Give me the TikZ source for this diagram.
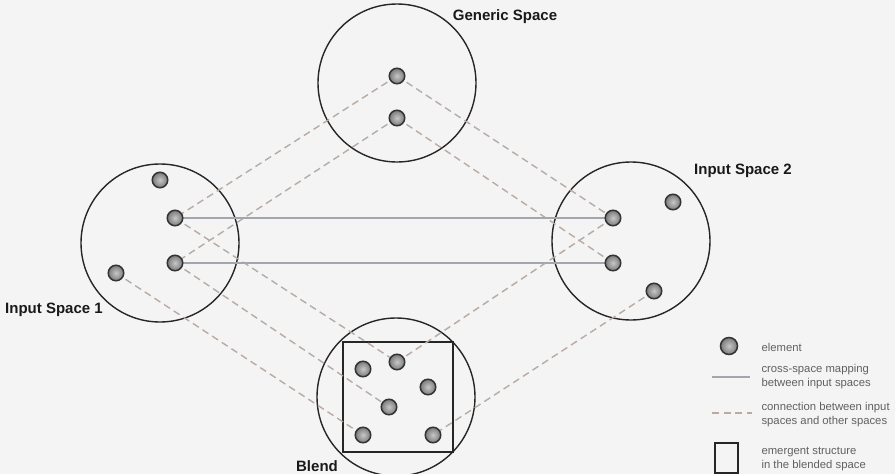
\documentclass[tikz,border=0pt]{standalone}
\usepackage{fontspec}
\setmainfont{Liberation Sans}
\begin{document}
\begin{tikzpicture}[x=1pt,y=-1pt,
  space/.style={circle,draw=black!85,line width=1.4pt,minimum size=158pt,inner sep=0pt},
  elem/.style={circle,draw=black!80,line width=1.5pt,minimum size=15.5pt,inner sep=0pt,
    inner color=black!22,outer color=black!52},
  mapping/.style={draw=maplinecol,line width=1.3pt},
  conn/.style={draw=connlinecol,line width=1.4pt,dash pattern=on 7pt off 4.5pt},
  title/.style={font=\fontsize{15}{17}\selectfont\bfseries,text=black!90},
  legtext/.style={font=\fontsize{11.3}{14}\selectfont,text=black!62,align=left,anchor=west}]
\definecolor{bgcol}{HTML}{F4F4F4}
\definecolor{maplinecol}{HTML}{A3A6AC}
\definecolor{connlinecol}{HTML}{B8ABA3}

\useasboundingbox (0,0) rectangle (895,474);
\fill[bgcol] (0,0) rectangle (895,474);

% mental spaces
\node[space] (gen) at (397,83) {};
\node[space] (in1) at (160,243) {};
\node[space] (in2) at (631,241) {};
\node[space] (bl)  at (396,397) {};
\draw[black!85,line width=1.4pt] (343,342) rectangle (453,452);

% space labels
\node[title] (tgen) at (505,17) {Generic Space};
\node[title] (tin2) at (743,171) {Input Space 2};
\node[title] (tin1) at (54,310) {Input Space 1};
\node[title] (tbl)  at (317,466) {Blend};

% element positions
\coordinate (pg1) at (397,76);
\coordinate (pg2) at (397,118);
\coordinate (pa0) at (160,180);
\coordinate (pa1) at (175,218);
\coordinate (pa2) at (175,263);
\coordinate (pa3) at (116,273);
\coordinate (pb0) at (673,202);
\coordinate (pb1) at (613,218);
\coordinate (pb2) at (613,263);
\coordinate (pb3) at (654,291);
\coordinate (pc1) at (397,362);
\coordinate (pc2) at (363,369);
\coordinate (pc3) at (428,387);
\coordinate (pc4) at (389,407);
\coordinate (pc5) at (363,435);
\coordinate (pc6) at (433,435);

% connections to generic space and blend
\draw[conn] (pg1) -- (pa1);
\draw[conn] (pg1) -- (pb1);
\draw[conn] (pg2) -- (pa2);
\draw[conn] (pg2) -- (pb2);
\draw[conn] (pa1) -- (pc1);
\draw[conn] (pa2) -- (pc4);
\draw[conn] (pa3) -- (pc5);
\draw[conn] (pb1) -- (pc1);
\draw[conn] (pb3) -- (pc6);

% cross-space mappings
\draw[mapping] (pa1) -- (pb1);
\draw[mapping] (pa2) -- (pb2);

% elements
\foreach \p in {g1,g2,a0,a1,a2,a3,b0,b1,b2,b3,c1,c2,c3,c4,c5,c6}
  \node[elem] (e\p) at (p\p) {};

% legend
\node[elem,minimum size=17pt] (legdot) at (729,346) {};
\node[legtext] (legt1) at (758,347) {element};
\coordinate (lm1) at (712,377);
\coordinate (lm2) at (750,377);
\draw[mapping] (lm1) -- (lm2);
\node[legtext] (legt2) at (758,377) {cross-space mapping\\between input spaces};
\coordinate (lc1) at (712,413);
\coordinate (lc2) at (752,413);
\draw[conn] (lc1) -- (lc2);
\node[legtext] (legt3) at (758,415) {connection between input\\spaces and other spaces};
\draw[black!85,line width=1.4pt] (715,443) rectangle (738,473);
\node[legtext] (legt4) at (758,459) {emergent structure\\in the blended space};
\end{tikzpicture}
\end{document}
